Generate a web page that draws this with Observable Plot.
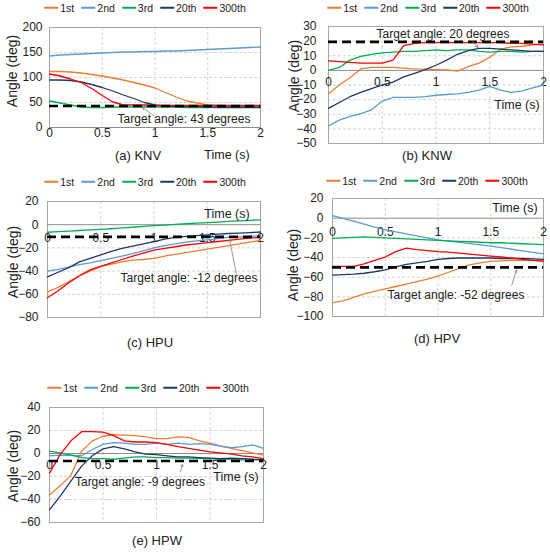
<!DOCTYPE html>
<html>
<head>
<meta charset="utf-8">
<script src="https://cdn.jsdelivr.net/npm/d3@7"></script>
<script src="https://cdn.jsdelivr.net/npm/@observablehq/plot@0.6"></script>
<style>
  body { margin: 0; background: #fff; font-family: "Liberation Sans", Arial, sans-serif; color: #222; }
  #fig { position: relative; width: 550px; height: 553px; overflow: hidden; }
  #fig svg { position: absolute; overflow: visible; }
  .legend { display: flex; gap: 7px; font-size: 10.5px; line-height: 1; white-space: nowrap; }
  .legend .item { display: flex; align-items: center; }
  .legend .sw { display: inline-block; width: 14px; height: 1.6px; margin-right: 2px; }
</style>
</head>
<body>
<div id="fig"></div>
<script>
const TIME = [0, 0.1, 0.2, 0.3, 0.4, 0.5, 0.6, 0.7, 0.8, 0.9, 1, 1.1, 1.2, 1.3, 1.4, 1.5, 1.6, 1.7, 1.8, 1.9, 2];
const X_TICKS = [0, 0.5, 1, 1.5, 2];
const SERIES = ["1st", "2nd", "3rd", "20th", "300th"];
const COLORS = ["#ED7D31", "#5B9BD5", "#00B050", "#1F3864", "#FF0000"];

// (a) KNV
const knv1 = [112, 112, 111, 109, 106, 103, 99, 95, 90, 85, 79, 70, 61, 53, 49, 45, 44, 43, 43, 43, 43];
const knv2 = [143, 145, 146, 147, 148, 149, 150, 151, 151, 152, 152, 153, 153, 154, 155, 156, 157, 158, 159, 160, 161];
const knv3 = [53, 49, 45, 41, 40, 40, 41, 41, 41, 41, 41, 41, 41, 40, 40, 40, 41, 41, 41, 41, 41];
const knv20 = [95, 95, 94, 91, 86, 80, 73, 65, 58, 50, 45, 43, 42, 42, 42, 41, 40, 40, 40, 40, 40];
const knv300 = [107, 103, 97, 90, 78, 64, 51, 45, 45, 45, 44, 44, 44, 44, 44, 44, 44, 44, 44, 44, 44];
const KNV_TICKS = [0, 50, 100, 150, 200];

// (b) KNW
const knw1 = [-16, -10, -5, 1, 2, 2, 2, 1.5, 1, 0.8, 0.5, 0.3, -0.5, 2.5, 5, 9, 14.5, 16, 16.5, 17.5, 18];
const knw2 = [-38, -34, -31.5, -29.5, -27, -21, -18.5, -18.5, -18.5, -18, -17, -16.5, -16, -15, -13.5, -11, -13.5, -15, -14, -12, -10];
const knw3 = [0, 2, 7, 9.5, 11, 12, 12.5, 13, 13, 13.5, 14, 13.5, 14, 14, 13, 12.5, 13, 13, 12.5, 13, 13];
const knw20 = [-26, -22, -18, -15, -12.5, -10, -8, -4.5, -2, 0.5, 3.5, 7, 11, 13.5, 15, 15, 14.5, 14, 13.5, 13, 13];
const knw300 = [6.5, 6, 5.5, 5, 5, 5, 7, 17, 18.5, 19, 19, 19, 19, 19, 19, 19, 19, 18.5, 18.5, 18, 17.5];
const KNW_TICKS = [-50, -40, -30, -20, -10, 0, 10, 20, 30];

// (c) HPU
const hpu1 = [-58, -54, -49, -44, -40, -36, -34, -32, -30.5, -30, -29, -27, -25.5, -24, -22.5, -21, -19.5, -18, -16.5, -15, -13.5];
const hpu2 = [-40, -38.5, -36.5, -34.5, -33, -31, -29, -27, -25, -22.5, -20, -18, -16.5, -15, -14, -13, -12, -11, -10.5, -10, -9.5];
const hpu3 = [-6.5, -6, -5.5, -5, -4.5, -4, -3.5, -2.8, -2.2, -1.5, -0.8, -0.3, 0.3, 0.8, 1.3, 1.8, 2.3, 2.8, 3.3, 3.8, 4.2];
const hpu20 = [-45, -41, -37, -32, -29, -26, -23, -20.5, -18.5, -16.5, -14.5, -12.5, -11, -10, -9.5, -8.8, -8.2, -7.6, -7.2, -6.8, -6.3];
const hpu300 = [-63, -57, -50, -44, -39, -36, -33, -30, -27, -24.5, -22, -20.5, -19, -17.5, -16.5, -15.5, -14.5, -13.5, -12.5, -11.5, -11];
const HPU_TICKS = [-80, -60, -40, -20, 0, 20];

// (d) HPV
const hpv1 = [-86, -84, -80.5, -77, -74.5, -72, -69.5, -67, -64.5, -62, -59, -55, -51, -47.5, -45.5, -44, -43.5, -43, -43, -43, -43];
const hpv2 = [2.7, -0.2, -3, -6, -9, -12, -14, -16, -18, -20, -22, -23.3, -24.6, -25.9, -27.2, -28.5, -30, -31.6, -33.2, -34.7, -36.3];
const hpv3 = [-20.5, -20, -19.5, -19, -19.5, -20, -20.5, -21, -21.5, -22, -22.5, -23, -23.5, -24, -24.5, -25, -25, -25.5, -26, -26.5, -27];
const hpv20 = [-58, -57.5, -57, -56, -54.5, -52.5, -49.5, -47, -45.5, -44, -42, -41, -40.5, -40.5, -40.5, -40.5, -41, -41, -41, -41.5, -42];
const hpv300 = [-49, -49, -49, -46.5, -43, -39.5, -34, -30.5, -32, -33, -34, -34.5, -35.5, -36.5, -37.5, -38.5, -39.5, -40.5, -42, -43, -44];
const HPV_TICKS = [-100, -80, -60, -40, -20, 0, 20];

// (e) HPW
const hpw1 = [-36, -28, -19, 2, 11, 15, 16.5, 16, 15.5, 14.5, 13, 13, 14.5, 14, 11, 9, 6.5, 4.5, 2.5, 0.5, -1.5];
const hpw2 = [-2, -1.5, -1.5, -2, 3.5, 8, 9.5, 9, 8, 8, 9, 8, 9, 8, 8.5, 8, 6.5, 5, 6, 7.5, 4.5];
const hpw3 = [2, 0.5, -1.5, -3.5, -4.5, -4.5, -5, -4, -3, -3, -3.5, -3.5, -4, -4, -4.5, -4.5, -5, -5, -5.5, -5.5, -5];
const hpw20 = [-49, -37, -24, -11, -2, 4, 6, 4, 1.5, -0.5, -1, -2, -3, -3, -3.5, -4, -4.5, -4, -4.5, -5, -5.5];
const hpw300 = [-17, -1, 11, 19, 19, 18.5, 15.5, 11, 10, 10, 9.5, 8, 6, 4.5, 3, 1.5, 0.5, -0.5, -2, -3, -4.5];
const HPW_TICKS = [-60, -40, -20, 0, 20, 40];

// drawn position of the dashed target line, and its caption
const TARGETS = [43, 19.5, -10.5, -50, -6.5];
const TARGET_TEXT = ["Target angle: 43 degrees", "Target angle: 20 degrees", "Target angle: -12 degrees",
  "Target angle: -52 degrees", "Target angle: -9 degrees"];
const CAPTIONS = ["(a) KNV", "(b) KNW", "(c) HPU", "(d) HPV", "(e) HPW"];

// layout per panel: frame box in page px, and where the html labels sit
const PANELS = [
  { vals: [knv1, knv2, knv3, knv20, knv300], ticks: KNV_TICKS, L: 49, R: 260, T: 27, B: 127, pad: 7, dy: 6,
    arrow: [0.986, 24, 0.88, 40], legend: [145, 8], title: [12, 71], time: [227, 155], tgt: [184, 119], cap: [138, 155] },
  { vals: [knw1, knw2, knw3, knw20, knw300], ticks: KNW_TICKS, L: 328, R: 543, T: 26, B: 143, pad: 12, dy: 12,
    arrow: [1.34, 19.9, 1.39, 15.7], legend: [428, 8], title: [294, 76], time: [517, 105], tgt: [443, 34], cap: [427, 155] },
  { vals: [hpu1, hpu2, hpu3, hpu20, hpu300], ticks: HPU_TICKS, L: 47, R: 260, T: 201, B: 317, pad: 9, dy: 13,
    arrow: [1.775, -43, 1.71, -12.9], legend: [145, 182], title: [13, 262], time: [227, 214], tgt: [189, 278], cap: [150, 342] },
  { vals: [hpv1, hpv2, hpv3, hpv20, hpv300], ticks: HPV_TICKS, L: 332, R: 543, T: 198, B: 316, pad: 9, dy: 14,
    arrow: [1.70, -68, 1.744, -52.9], legend: [427, 181], title: [293, 265], time: [515, 208], tgt: [456, 295], cap: [437, 338] },
  { vals: [hpw1, hpw2, hpw3, hpw20, hpw300], ticks: HPW_TICKS, L: 49, R: 263, T: 407, B: 522, pad: 9, dy: 12,
    arrow: [1.224, -15.7, 1.243, -9.6], legend: [148, 388], title: [13, 466], time: [236, 477], tgt: [140, 482], cap: [157, 540] },
];

const fig = document.getElementById("fig");
const M = { left: 45, right: 8, top: 6, bottom: 20 };

function put(el, cx, cy, rot) {
  el.style.position = "absolute";
  el.style.left = cx + "px";
  el.style.top = cy + "px";
  el.style.transform = "translate(-50%,-50%)" + (rot ? " rotate(-90deg)" : "");
  fig.append(el);
}

function label(text, [cx, cy], size, rot) {
  const d = document.createElement("div");
  d.textContent = text;
  d.style.fontSize = size + "px";
  d.style.lineHeight = "1";
  d.style.whiteSpace = "nowrap";
  put(d, cx, cy, rot);
}

function legend([cx, cy]) {
  const d = document.createElement("div");
  d.className = "legend";
  SERIES.forEach((s, i) => {
    const item = document.createElement("span");
    item.className = "item";
    const sw = document.createElement("span");
    sw.className = "sw";
    sw.style.background = COLORS[i];
    item.append(sw, document.createTextNode(s));
    d.append(item);
  });
  put(d, cx, cy);
}

PANELS.forEach((p, k) => {
  const rows = SERIES.flatMap((s, i) => TIME.map((t, j) => ({ t, v: p.vals[i][j], s })));
  const ticks = p.ticks;
  const [x1, y1, x2, y2] = p.arrow;
  const plot = Plot.plot({
    width: p.R - p.L + M.left + M.right,
    height: p.B - p.T + M.top + M.bottom,
    marginLeft: M.left, marginRight: M.right, marginTop: M.top, marginBottom: M.bottom,
    x: { domain: [0, 2], axis: null },
    y: { domain: [ticks[0], ticks[ticks.length - 1]] },
    color: { domain: SERIES, range: COLORS },
    style: { fontFamily: '"Liberation Sans", Arial, sans-serif', fontSize: "12px", color: "#222", background: "transparent" },
    marks: [
      Plot.gridX([0.5, 1, 1.5], { stroke: "#d4d4d4", strokeOpacity: 1, strokeDasharray: "3,2" }),
      Plot.gridY(ticks.slice(1, -1).filter(d => d !== 0), { stroke: "#d4d4d4", strokeOpacity: 1, strokeDasharray: "3,2" }),
      Plot.frame({ stroke: "#a6a6a6" }),
      Plot.ruleY([0], { stroke: "#8c8c8c" }),
      Plot.axisY(ticks, { tickSize: 0, tickPadding: p.pad, label: null, fontSize: 12 }),
      Plot.text(X_TICKS, { x: d => d, y: 0, dy: p.dy, text: d => String(d), fontSize: 12 }),
      Plot.line(rows, { x: "t", y: "v", z: "s", stroke: "s", strokeWidth: 1.3 }),
      Plot.ruleY([TARGETS[k]], { stroke: "#000", strokeWidth: 2.6, strokeDasharray: "9,5" }),
      Plot.arrow([0], { x1: () => x1, y1: () => y1, x2: () => x2, y2: () => y2,
        stroke: "#7f7f7f", strokeWidth: 0.8, headLength: 5 })
    ]
  });
  plot.style.left = (p.L - M.left) + "px";
  plot.style.top = (p.T - M.top) + "px";
  fig.append(plot);

  legend(p.legend);
  label("Angle (deg)", p.title, 14, true);
  label("Time (s)", p.time, 12.5);
  label(TARGET_TEXT[k], p.tgt, 12);
  label(CAPTIONS[k], p.cap, 13);
});
</script>
</body>
</html>
